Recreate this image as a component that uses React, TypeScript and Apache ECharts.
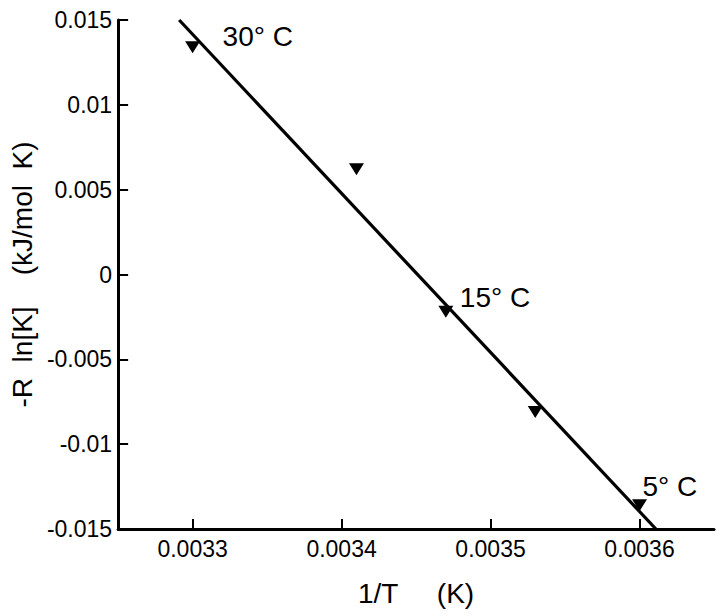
import React, { useEffect, useRef } from "react";
import * as echarts from "echarts";

const pointX = [0.0033, 0.00341, 0.00347, 0.00353, 0.0036];
const pointY = [0.0134, 0.0062, -0.0022, -0.0081, -0.0136];
const pointLabels = ["30° C", "", "15° C", "", "5° C"];
const fitX = [0.003291, 0.003611];
const fitY = [0.015, -0.015];
const xTicks = [0.0033, 0.0034, 0.0035, 0.0036];
const xName = "1/T     (K)";
const yName = "-R  ln[K]    (kJ/mol  K)";

const FONT = "'Liberation Sans', Arial, Helvetica, sans-serif";

export default function App() {
  const ref = useRef<HTMLDivElement>(null);
  useEffect(() => {
    if (!ref.current) return;
    const chart = echarts.init(ref.current, null, { renderer: "svg" });
    const labelOffsets: Record<number, [number, number]> = {
      0: [30, -11],
      2: [14, -14],
      4: [3, -19],
    };
    chart.setOption({
      animation: false,
      backgroundColor: "#ffffff",
      grid: { left: 118, right: 6, top: 20, bottom: 87 },
      xAxis: {
        type: "value",
        min: 0.00325,
        max: 0.00365,
        name: xName,
        nameLocation: "middle",
        nameGap: 50,
        nameTextStyle: { fontFamily: FONT, fontSize: 28, color: "#000" },
        splitLine: { show: false },
        axisLine: { show: true, onZero: false, lineStyle: { color: "#000", width: 3 } },
        axisTick: {
          show: true,
          inside: true,
          length: 10,
          customValues: xTicks,
          lineStyle: { color: "#000", width: 2 },
        },
        axisLabel: {
          customValues: xTicks,
          margin: 8,
          fontFamily: FONT,
          fontSize: 23,
          color: "#000",
          formatter: (v: number) => String(+v.toFixed(5)),
        },
      },
      yAxis: {
        type: "value",
        min: -0.015,
        max: 0.015,
        interval: 0.005,
        name: yName,
        nameLocation: "middle",
        nameRotate: 90,
        nameGap: 82,
        nameTextStyle: { fontFamily: FONT, fontSize: 28, color: "#000" },
        splitLine: { show: false },
        axisLine: { show: true, onZero: false, lineStyle: { color: "#000", width: 3 } },
        axisTick: { show: true, inside: true, length: 10, lineStyle: { color: "#000", width: 2 } },
        axisLabel: {
          margin: 6,
          fontFamily: FONT,
          fontSize: 23,
          color: "#000",
          formatter: (v: number) => String(+v.toFixed(4)),
        },
      },
      series: [
        {
          type: "line",
          data: fitX.map((x, i) => [x, fitY[i]]),
          showSymbol: false,
          symbol: "none",
          clip: false,
          lineStyle: { color: "#000", width: 3.2 },
          z: 3,
        },
        {
          type: "scatter",
          symbol: "triangle",
          symbolRotate: 180,
          symbolSize: [15, 12],
          itemStyle: { color: "#000", opacity: 1 },
          z: 4,
          data: pointX.map((x, i) => ({
            value: [x, pointY[i]],
            label: pointLabels[i]
              ? {
                  show: true,
                  formatter: pointLabels[i],
                  position: "inside",
                  align: "left",
                  verticalAlign: "middle",
                  offset: labelOffsets[i],
                  fontFamily: FONT,
                  fontSize: 28,
                  color: "#000",
                }
              : { show: false },
          })),
        },
      ],
    });
    return () => chart.dispose();
  }, []);
  return (
    <div
      ref={ref}
      style={{ position: "fixed", left: 0, top: 0, width: 720, height: 616, background: "#fff" }}
    />
  );
}
